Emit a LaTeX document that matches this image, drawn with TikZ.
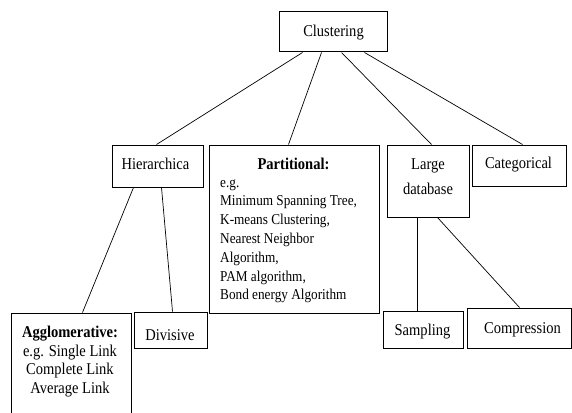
\documentclass[tikz,border=0pt]{standalone}
\usepackage{fontspec}
\setmainfont[FakeStretch=0.88]{Liberation Serif}
\usetikzlibrary{calc}
\tikzset{
  box/.style={draw, line width=1pt, rectangle, inner sep=0pt},
  lbl/.style={inner sep=0pt, anchor=base, font=\fontsize{16.5}{18}\selectfont},
  body/.style={inner sep=0pt, anchor=base west, font=\fontsize{15.05}{18}\selectfont},
  link/.style={line width=0.7pt}
}
\begin{document}
\begin{tikzpicture}[x=1pt,y=-1pt]
\useasboundingbox (0,0) rectangle (572,412);
% boxes
\node[box, minimum width=108, minimum height=40] (clu) at (333,32) {};
\node[box, minimum width=91, minimum height=42] (hie) at (157.5,166) {};
\node[box, minimum width=170, minimum height=168] (par) at (294,229) {};
\node[box, minimum width=82, minimum height=72] (lar) at (428,181) {};
\node[box, minimum width=94, minimum height=41] (cat) at (519,165.5) {};
\node[box, minimum width=120, minimum height=110] (agg) at (71,368) {};
\node[box, minimum width=73, minimum height=36] (div) at (170.5,330) {};
\node[box, minimum width=80, minimum height=37] (sam) at (423,329.5) {};
\node[box, minimum width=104, minimum height=40] (com) at (519,328) {};
% texts
\node[lbl] (tclu) at (333.5,37) {Clustering};
\node[lbl] (thie) at (155.5,169) {Hierarchica};
\node[lbl] (tpar) at (293.5,169) {\bfseries Partitional:};
\node[body] (tp1) at (220,187) {e.g.};
\node[body] (tp2) at (220,205.8) {Minimum Spanning Tree,};
\node[body] (tp3) at (220,224.6) {K-means Clustering,};
\node[body] (tp4) at (220,243.4) {Nearest Neighbor};
\node[body] (tp5) at (220,262.2) {Algorithm,};
\node[body] (tp6) at (220,281) {PAM algorithm,};
\node[body] (tp7) at (220,299.8) {Bond energy Algorithm};
\node[lbl] (tlar1) at (428,169) {Large};
\node[lbl] (tlar2) at (428,194) {database};
\node[lbl] (tcat) at (518.5,168) {Categorical};
\node[lbl] (tagg1) at (70,337) {\bfseries Agglomerative:};
\node[lbl] (tagg2) at (70,356) {e.g. Single Link};
\node[lbl] (tagg3) at (70,374.5) {Complete Link};
\node[lbl] (tagg4) at (70,393) {Average Link};
\node[lbl] (tdiv) at (170,340) {Divisive};
\node[lbl] (tsam) at (422.5,335) {Sampling};
\node[lbl] (tcom) at (522.5,333) {Compression};
% connectors
\draw[link] ($(clu.south west)+(24,0)$) -- ($(hie.north west)+(45,0)$);
\draw[link] ($(clu.south west)+(43,0)$) -- ($(par.north west)+(80,0)$);
\draw[link] ($(clu.south west)+(63,0)$) -- ($(lar.north west)+(45,0)$);
\draw[link] ($(clu.south west)+(86,0)$) -- ($(cat.north west)+(51,0)$);
\draw[link] ($(hie.south west)+(22,0)$) -- ($(agg.north west)+(72,0)$);
\draw[link] ($(hie.south west)+(50,0)$) -- ($(div.north west)+(39,0)$);
\draw[link] ($(lar.south west)+(31,0)$) -- ($(sam.north west)+(35,0)$);
\draw[link] ($(lar.south west)+(51,0)$) -- ($(com.north west)+(53,0)$);
\end{tikzpicture}
\end{document}
